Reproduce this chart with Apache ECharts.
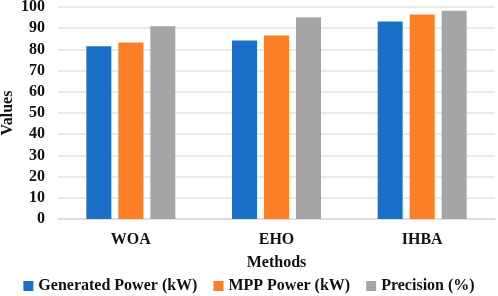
<!DOCTYPE html>
<html>
<head>
<meta charset="utf-8">
<script src="https://cdn.jsdelivr.net/npm/echarts@6/dist/echarts.min.js"></script>
<style>
  html, body { margin: 0; padding: 0; background: #fff; }
  #chart { width: 498px; height: 296px; }
</style>
</head>
<body>
<div id="chart"></div>
<script>
var methods = ['WOA', 'EHO', 'IHBA'];
var generatedPower = [81.5, 84.2, 93.2];
var mppPower = [83.3, 86.6, 96.5];
var precision = [90.9, 95.2, 98.2];
var seriesNames = ['Generated Power (kW)', 'MPP Power (kW)', 'Precision (%)'];
var colors = ['#1A6FC8', '#FD7E24', '#A5A5A5'];

var textFont = {
  fontFamily: "'Liberation Serif', 'Times New Roman', serif",
  fontWeight: 'bold',
  fontSize: 16,
  color: '#111'
};

var myChart = echarts.init(document.getElementById('chart'));

function makeSeries(name, data, color) {
  return {
    name: name,
    type: 'bar',
    data: data,
    barWidth: 25,
    barGap: '28%',
    itemStyle: { color: color }
  };
}

myChart.setOption({
  animation: false,
  color: colors,
  grid: {
    left: 58,
    right: 3,
    top: 7,
    bottom: 77,
    outerBoundsMode: 'none'
  },
  legend: {
    data: seriesNames,
    bottom: 2,
    left: 'center',
    padding: [0, 5, 0, 5],
    itemWidth: 10,
    itemHeight: 10,
    itemGap: 16,
    icon: 'rect',
    textStyle: textFont
  },
  xAxis: {
    type: 'category',
    data: methods,
    name: 'Methods',
    nameLocation: 'middle',
    nameGap: 36,
    nameMoveOverlap: false,
    nameTextStyle: textFont,
    axisLine: { lineStyle: { color: '#D9D9D9', width: 1.5 } },
    axisTick: { show: false },
    axisLabel: Object.assign({ margin: 13 }, textFont)
  },
  yAxis: {
    type: 'value',
    min: 0,
    max: 100,
    interval: 10,
    name: 'Values',
    nameLocation: 'middle',
    nameGap: 42,
    nameMoveOverlap: false,
    nameTextStyle: textFont,
    axisLine: { show: false },
    axisTick: { show: false },
    axisLabel: Object.assign({ margin: 13 }, textFont),
    splitLine: { lineStyle: { color: '#E3E3E3', width: 1.5 } }
  },
  series: [
    makeSeries(seriesNames[0], generatedPower, colors[0]),
    makeSeries(seriesNames[1], mppPower, colors[1]),
    makeSeries(seriesNames[2], precision, colors[2])
  ]
});
</script>
</body>
</html>
